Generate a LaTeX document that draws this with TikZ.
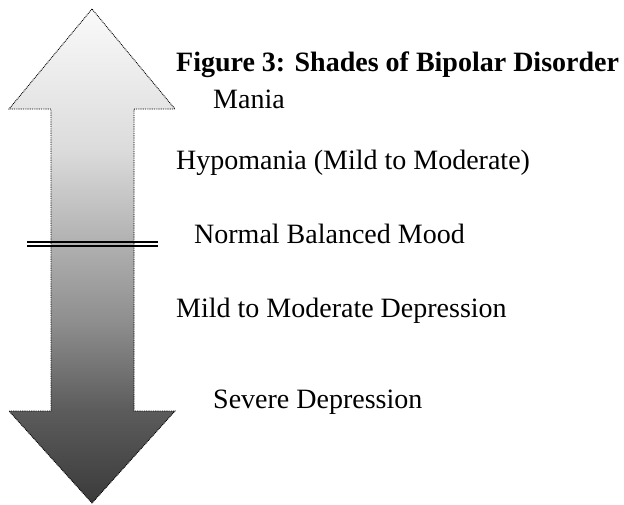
\documentclass[tikz,border=0pt]{standalone}
\usepackage{fontspec}
\setmainfont{Liberation Serif}
\pgfdeclareverticalshading{arrowshade}{100bp}{%
  color(0bp)=(black!77);
  color(25bp)=(black!77);
  color(34.4bp)=(black!64);
  color(43.5bp)=(black!44);
  color(51.2bp)=(black!31);
  color(60.7bp)=(black!14);
  color(75bp)=(black!2);
  color(100bp)=(black!2)}
\tikzset{
  arrowbody/.style={shading=arrowshade, draw=black, line width=0.9pt, dash pattern=on 0.9pt off 0.9pt},
  barline/.style={line width=2pt, draw=black},
  label/.style={anchor=base west, inner sep=0pt, font=\fontsize{28}{32}\selectfont}
}
\begin{document}
\begin{tikzpicture}[x=1pt, y=-1pt]
\useasboundingbox (0,0) rectangle (624,504);
\path[arrowbody] (92,9) -- (9,109) -- (51,109) -- (51,411) -- (9,411) -- (92,503)
  -- (175,411) -- (134,411) -- (134,109) -- (175,109) -- cycle;
\coordinate (b1l) at (27,241.8);
\coordinate (b1r) at (158,241.8);
\coordinate (b2l) at (27,246.2);
\coordinate (b2r) at (158,246.2);
\draw[barline] (b1l) -- (b1r);
\draw[barline] (b2l) -- (b2r);
\node[label, font=\fontsize{28}{32}\selectfont\bfseries] (title) at (176,71.7) {Figure 3: Shades of Bipolar Disorder};
\node[label] (mania) at (213,108) {Mania};
\node[label] (hypo) at (176,169) {Hypomania (Mild to Moderate)};
\node[label] (normal) at (194,243) {Normal Balanced Mood};
\node[label] (mild) at (176,317) {Mild to Moderate Depression};
\node[label] (severe) at (213,408) {Severe Depression};
\end{tikzpicture}
\end{document}
